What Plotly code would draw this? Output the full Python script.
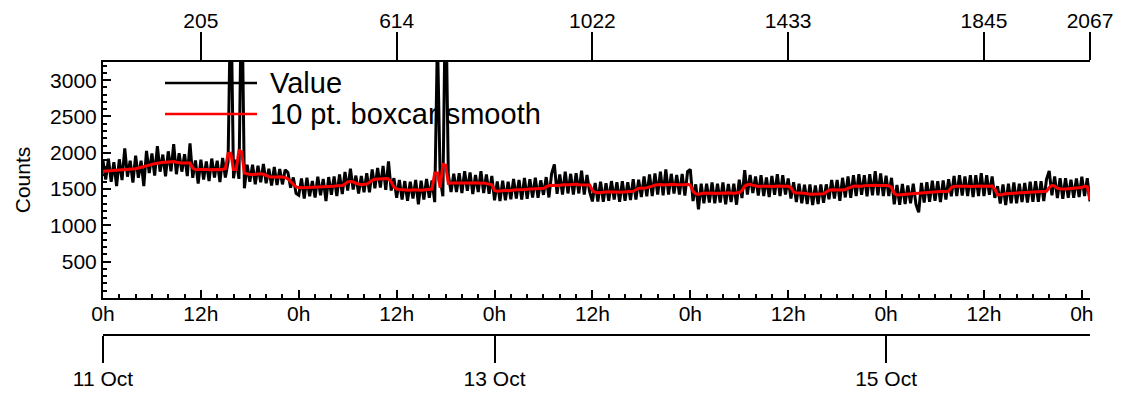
import numpy as np
import pandas as pd
import plotly.graph_objects as go

# ---------------- data (20-minute grid) ----------------
start_time = "2023-10-11 00:00"
step_minutes = 20

value_counts = [
    1890, 1630, 1920, 1600, 1870, 1540, 1910, 1625, 2060, 1670, 1890, 1590,   # 0-4h
    1960, 1655, 1890, 1540, 2025, 1720, 1990, 1685, 2090, 1740, 1975, 1675,   # 4-8h
    2020, 1745, 2120, 1705, 1995, 1740, 1980, 1680, 2130, 1655, 1895, 1575,   # 8-12h
    1905, 1630, 1880, 1610, 1920, 1660, 1890, 1595, 1930, 1660, 1875, 4300,   # 12-16h
    1650, 1905, 1640, 4500, 1510, 1835, 1600, 1835, 1565, 1820, 1595, 1845,   # 16-20h
    1580, 1780, 1550, 1805, 1555, 1775, 1565, 1765, 1730, 1520, 1660, 1440,   # 20-24h
    1415, 1645, 1370, 1655, 1400, 1610, 1385, 1670, 1415, 1640, 1335, 1665,   # 24-28h
    1420, 1675, 1405, 1700, 1430, 1735, 1480, 1780, 1495, 1685, 1440, 1680,   # 28-32h
    1455, 1720, 1455, 1770, 1510, 1790, 1520, 1820, 1490, 1880, 1480, 1650,   # 32-36h
    1380, 1625, 1355, 1610, 1340, 1600, 1370, 1625, 1290, 1615, 1355, 1640,   # 36-40h
    1380, 1620, 1320, 3600, 1650, 1400, 4400, 1700, 1460, 1710, 1460, 1720,   # 40-44h
    1445, 1745, 1475, 1730, 1430, 1695, 1460, 1745, 1445, 1700, 1435, 1680,   # 44-48h
    1345, 1605, 1335, 1615, 1345, 1600, 1360, 1640, 1370, 1625, 1355, 1655,   # 48-52h
    1365, 1635, 1385, 1655, 1380, 1620, 1420, 1665, 1385, 1715, 1840, 1435,   # 52-56h
    1700, 1425, 1740, 1440, 1710, 1425, 1720, 1440, 1755, 1425, 1695, 1460,   # 56-60h
    1330, 1585, 1330, 1600, 1325, 1580, 1340, 1610, 1355, 1595, 1325, 1610,   # 60-64h
    1340, 1595, 1350, 1635, 1355, 1630, 1390, 1675, 1400, 1700, 1405, 1715,   # 64-68h
    1425, 1740, 1415, 1770, 1425, 1710, 1440, 1695, 1425, 1710, 1410, 1740,   # 68-72h
    1770, 1335, 1565, 1220, 1575, 1305, 1575, 1315, 1590, 1305, 1575, 1315,   # 72-76h
    1590, 1290, 1570, 1320, 1575, 1285, 1630, 1375, 1760, 1425, 1695, 1445,   # 76-80h
    1675, 1410, 1690, 1405, 1660, 1390, 1680, 1420, 1705, 1405, 1690, 1425,   # 80-84h
    1645, 1370, 1595, 1320, 1575, 1305, 1560, 1295, 1565, 1280, 1550, 1295,   # 84-88h
    1565, 1310, 1565, 1360, 1625, 1370, 1625, 1340, 1655, 1385, 1675, 1380,   # 88-92h
    1690, 1405, 1705, 1420, 1690, 1400, 1705, 1415, 1745, 1415, 1715, 1405,   # 92-96h
    1685, 1405, 1655, 1290, 1555, 1285, 1570, 1295, 1550, 1305, 1575, 1290,   # 96-100h
    1180, 1585, 1315, 1595, 1325, 1615, 1340, 1610, 1320, 1620, 1355, 1635,   # 100-104h
    1400, 1680, 1405, 1690, 1410, 1675, 1405, 1690, 1390, 1690, 1405, 1720,   # 104-108h
    1405, 1690, 1420, 1675, 1380, 1540, 1300, 1565, 1280, 1575, 1305, 1590,   # 108-112h
    1305, 1575, 1320, 1585, 1315, 1600, 1325, 1610, 1325, 1610, 1335, 1635,   # 112-116h
    1750, 1415, 1675, 1375, 1650, 1365, 1650, 1380, 1630, 1380, 1645, 1390,   # 116-120h
    1670, 1405, 1650, 1330,                                                   # 120-121h
]

smooth_counts = [
    1745, 1748, 1750, 1752, 1755, 1755, 1758, 1760, 1760, 1765, 1770, 1775,   # 0-4h
    1780, 1790, 1800, 1815, 1830, 1840, 1845, 1850, 1855, 1865, 1870, 1870,   # 4-8h
    1875, 1880, 1878, 1870, 1862, 1860, 1860, 1862, 1858, 1790, 1765, 1768,   # 8-12h
    1770, 1772, 1768, 1765, 1770, 1772, 1770, 1768, 1775, 1780, 1990, 1995,   # 12-16h
    1770, 1770, 2040, 2010, 1720, 1705, 1700, 1700, 1705, 1700, 1710, 1705,   # 16-20h
    1690, 1670, 1668, 1665, 1668, 1670, 1665, 1660, 1640, 1600, 1560, 1530,   # 20-24h
    1520, 1515, 1518, 1520, 1522, 1518, 1520, 1525, 1522, 1525, 1530, 1528,   # 24-28h
    1535, 1540, 1545, 1548, 1550, 1570, 1600, 1605, 1600, 1580, 1565, 1560,   # 28-32h
    1565, 1570, 1590, 1620, 1635, 1640, 1645, 1640, 1645, 1640, 1600, 1530,   # 32-36h
    1500, 1495, 1490, 1488, 1490, 1485, 1490, 1492, 1488, 1485, 1490, 1495,   # 36-40h
    1492, 1500, 1720, 1720, 1520, 1840, 1830, 1580, 1585, 1580, 1582, 1585,   # 40-44h
    1580, 1585, 1582, 1580, 1585, 1588, 1582, 1580, 1585, 1580, 1575, 1560,   # 44-48h
    1480, 1470, 1475, 1480, 1482, 1478, 1485, 1488, 1490, 1492, 1490, 1495,   # 48-52h
    1498, 1500, 1495, 1495, 1500, 1505, 1510, 1530, 1550, 1552, 1548, 1545,   # 52-56h
    1550, 1560, 1565, 1560, 1562, 1565, 1568, 1560, 1558, 1562, 1560, 1555,   # 56-60h
    1480, 1455, 1450, 1455, 1460, 1458, 1462, 1460, 1465, 1460, 1458, 1462,   # 60-64h
    1465, 1460, 1468, 1470, 1490, 1510, 1515, 1512, 1520, 1525, 1540, 1555,   # 64-68h
    1560, 1562, 1555, 1558, 1562, 1560, 1565, 1560, 1558, 1562, 1560, 1565,   # 68-72h
    1555, 1470, 1435, 1430, 1440, 1445, 1442, 1448, 1445, 1440, 1445, 1448,   # 72-76h
    1445, 1442, 1450, 1445, 1440, 1448, 1450, 1480, 1540, 1560, 1565, 1555,   # 76-80h
    1540, 1535, 1538, 1540, 1536, 1540, 1535, 1540, 1538, 1542, 1540, 1535,   # 80-84h
    1538, 1520, 1460, 1445, 1440, 1445, 1442, 1430, 1428, 1430, 1432, 1428,   # 84-88h
    1430, 1435, 1460, 1485, 1490, 1488, 1490, 1492, 1488, 1495, 1510, 1530,   # 88-92h
    1540, 1542, 1538, 1540, 1545, 1548, 1545, 1550, 1552, 1548, 1550, 1545,   # 92-96h
    1550, 1545, 1520, 1440, 1420, 1422, 1425, 1430, 1435, 1440, 1438, 1442,   # 96-100h
    1445, 1450, 1455, 1458, 1460, 1455, 1460, 1465, 1468, 1470, 1465, 1475,   # 100-104h
    1520, 1535, 1538, 1540, 1535, 1538, 1540, 1536, 1540, 1538, 1540, 1542,   # 104-108h
    1540, 1538, 1540, 1542, 1500, 1425, 1420, 1430, 1435, 1438, 1440, 1436,   # 108-112h
    1440, 1445, 1442, 1448, 1450, 1455, 1458, 1460, 1462, 1465, 1468, 1470,   # 112-116h
    1520, 1550, 1540, 1510, 1505, 1500, 1502, 1505, 1508, 1505, 1510, 1512,   # 116-120h
    1520, 1537, 1530, 1350,                                                   # 120-121h
]

# axis labelling
y_tick_values = [500, 1000, 1500, 2000, 2500, 3000]
y_range = [0, 3250]
hour_tick_hours = [0, 12, 24, 36, 48, 60, 72, 84, 96, 108, 120]
hour_tick_labels = ["0h", "12h", "0h", "12h", "0h", "12h", "0h", "12h", "0h", "12h", "0h"]
index_tick_hours = [12, 36, 60, 84, 108, 121]
index_tick_labels = ["205", "614", "1022", "1433", "1845", "2067"]
date_tick_days = [0, 2, 4]
date_tick_labels = ["11 Oct", "13 Oct", "15 Oct"]
x_span_hours = 121

# ---------------- build ----------------
t0 = pd.Timestamp(start_time)
times = [t0 + pd.Timedelta(minutes=step_minutes * i) for i in range(len(value_counts))]
x_range = [t0, t0 + pd.Timedelta(hours=x_span_hours)]
hour_tickvals = [t0 + pd.Timedelta(hours=h) for h in hour_tick_hours]
index_tickvals = [t0 + pd.Timedelta(hours=h) for h in index_tick_hours]
date_tickvals = [t0 + pd.Timedelta(days=d) for d in date_tick_days]

FONT = "Liberation Sans, Arial, Helvetica, sans-serif"

# page is rendered with the browser's default 8px body margin
OFF = 8
W, H = 1124 - OFF, 393 - OFF
left, right, top = 103 - OFF, 1090 - OFF, 62 - OFF
plot_bottom, date_axis_y = 298 - OFF, 335 - OFF
paper_h = date_axis_y - top
y_dom0 = (date_axis_y - plot_bottom) / paper_h

fig = go.Figure()
fig.add_trace(go.Scatter(x=times, y=value_counts, mode="lines", name="Value",
                         line=dict(color="black", width=3.0), showlegend=False))
fig.add_trace(go.Scatter(x=times, y=smooth_counts, mode="lines", name="10 pt. boxcar smooth",
                         line=dict(color="#ff0000", width=3.0), showlegend=False))

axis_common = dict(showgrid=False, zeroline=False, showline=True, linecolor="black",
                   linewidth=2, tickcolor="black", tickwidth=2, automargin=False,
                   tickfont=dict(family=FONT, size=21, color="black"))

fig.update_layout(
    width=W, height=H,
    margin=dict(l=left, r=W - right, t=top, b=H - date_axis_y, pad=0),
    paper_bgcolor="white", plot_bgcolor="white",
    font=dict(family=FONT, size=21, color="black"),
    showlegend=False,
    xaxis=dict(type="date", range=x_range, tickmode="array", tickvals=hour_tickvals,
               ticktext=hour_tick_labels, ticks="inside", ticklen=8,
               minor=dict(dtick=2 * 3600 * 1000, tick0=t0, ticks="inside", ticklen=4,
                          tickwidth=2, tickcolor="black"),
               anchor="y", side="bottom", ticklabelstandoff=-4, **axis_common),
    xaxis2=dict(type="date", range=x_range, overlaying="x", anchor="y", side="top",
                tickmode="array", tickvals=index_tickvals, ticktext=index_tick_labels,
                ticks="outside", ticklen=28, ticklabelstandoff=-4, **axis_common),
    xaxis3=dict(type="date", range=x_range, overlaying="x", anchor="free", position=0,
                side="bottom", tickmode="array", tickvals=date_tickvals,
                ticktext=date_tick_labels, ticks="outside", ticklen=27,
                ticklabelstandoff=-2, **axis_common),
    yaxis=dict(range=y_range, domain=[y_dom0, 1], tickmode="array", tickvals=y_tick_values,
               ticks="inside", ticklen=8,
               minor=dict(dtick=100, ticks="inside", ticklen=4, tickwidth=2, tickcolor="black"),
               title=dict(text="Counts", font=dict(family=FONT, size=21, color="black"),
                          standoff=14),
               ticklabelstandoff=0, **axis_common),
)

# placeholder traces so the extra axes are rendered
fig.add_trace(go.Scatter(x=x_range, y=[None, None], xaxis="x2", yaxis="y",
                         mode="lines", showlegend=False, hoverinfo="skip"))
fig.add_trace(go.Scatter(x=x_range, y=[None, None], xaxis="x3", yaxis="y",
                         mode="lines", showlegend=False, hoverinfo="skip"))

# legend drawn manually (long line samples like the original)
def px_x(p):
    return (p - OFF - left) / (right - left)

def px_y(p):
    return (date_axis_y - (p - OFF)) / paper_h

legend_items = [("Value", "black", 83), ("10 pt. boxcar smooth", "#ff0000", 114)]
for label, color, ypix in legend_items:
    fig.add_shape(type="line", xref="paper", yref="paper",
                  x0=px_x(165), x1=px_x(257), y0=px_y(ypix), y1=px_y(ypix),
                  line=dict(color=color, width=2.5))
    fig.add_annotation(xref="paper", yref="paper", x=px_x(268), y=px_y(ypix),
                       xanchor="left", yanchor="middle", text=label, showarrow=False,
                       font=dict(family=FONT, size=29, color="black"))

fig.write_html("out.html")
